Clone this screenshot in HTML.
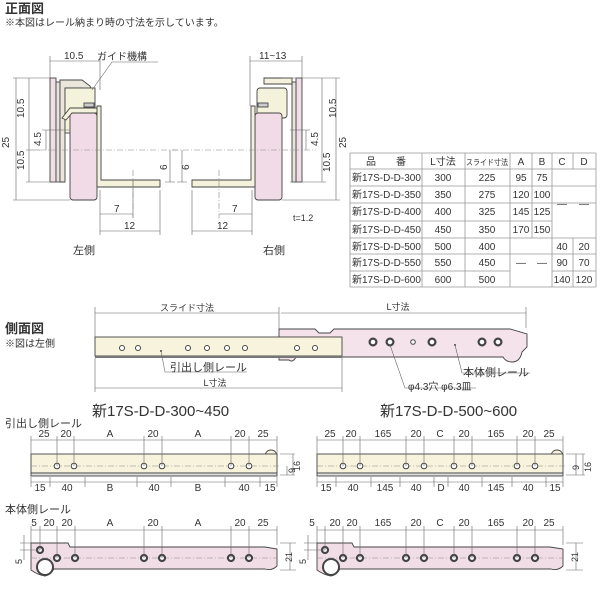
<!DOCTYPE html>
<html><head><meta charset="utf-8"><style>
html,body{margin:0;padding:0;background:#fff}
svg{display:block}
text{font-family:"Liberation Sans","Noto Sans CJK JP",sans-serif;fill:#333}
.d{stroke:#666;stroke-width:0.6;fill:none}
.c{stroke:#888;stroke-width:0.6;stroke-dasharray:6 2 1 2;fill:none}
.o{stroke:#444;stroke-width:0.9}
.h{fill:#fff;stroke:#444;stroke-width:1}
.hh{fill:#fff;stroke:#444;stroke-width:2.2}
</style></head><body>
<svg width="600" height="600" viewBox="0 0 600 600">
<text x="5" y="13" font-size="13" font-weight="bold">正面図</text>
<text x="5" y="26" font-size="10">※本図はレール納まり時の寸法を示しています。</text>

<g id="lv">
<rect x="50" y="78" width="6" height="104" fill="#f1dde6" class="o"/>
<rect x="56" y="82" width="4" height="100" fill="#e8e2dc" class="o"/>
<path d="M60 80 H82 L90 86 L93 94 L88 96 L82 88 H65 V182 H60Z" fill="#eae6dc" class="o"/>
<rect x="65" y="88" width="30" height="45" fill="#f5f2dc" class="o"/>
<rect x="70" y="113" width="27" height="87" rx="3" fill="#f0dbe6" class="o"/>
<path d="M97 106 H101 V180 H160 V187 H97 Z" fill="#f5f2dc" class="o"/>
<path d="M62 118 L70 108 H97 V113 H72 L66 120Z" fill="#f5f2dc" class="o"/>
<rect x="84" y="103" width="10" height="4" fill="#ccc" class="o"/>
</g>
<g transform="translate(352,0) scale(-1,1)">
<rect x="50" y="78" width="6" height="104" fill="#f1dde6" class="o"/>
<rect x="56" y="82" width="4" height="100" fill="#e8e2dc" class="o"/>
<path d="M60 78 H88 V84 H60Z" fill="#f5f2dc" class="o"/>
<rect x="65" y="88" width="30" height="30" rx="3" fill="#f5f2dc" class="o"/>
<rect x="70" y="113" width="27" height="87" rx="3" fill="#f0dbe6" class="o"/>
<path d="M97 106 H101 V180 H160 V187 H97 Z" fill="#f5f2dc" class="o"/>
<rect x="84" y="103" width="10" height="4" fill="#ccc" class="o"/>
</g>
<path class="d" d="M50 61 H100 M50 56 V78 M100 56 V90 M16 78 V200 M13 78 H50 M13 200 H70 M29 78 V182 M26 182 H60 M26 150 H40 M46 130 V150 M42 130 H70 M170 150 V182 M165 182 H175 M100 214 H133 M100 231 H160 M100 190 V235 M133 180 V218 M160 190 V235"/>
<path class="c" d="M40 150 H180 M133 170 V218"/>
<text x="64" y="59" font-size="10">10.5</text>
<text x="97" y="60" font-size="10">ガイド機構</text>
<path class="d" d="M92 90 L112 62 H158"/>
<text x="9" y="148" font-size="10" transform="rotate(-90 9 148)">25</text>
<text x="24" y="118" font-size="10" transform="rotate(-90 24 118)">10.5</text>
<text x="24" y="170" font-size="10" transform="rotate(-90 24 170)">10.5</text>
<text x="41" y="146" font-size="10" transform="rotate(-90 41 146)">4.5</text>
<text x="167" y="170" font-size="10" transform="rotate(-90 167 170)">6</text>
<text x="114" y="212" font-size="10">7</text>
<text x="124" y="229" font-size="10">12</text>
<text x="73" y="254" font-size="11">左側</text>
<path class="d" d="M250 61 H302 M250 56 V106 M302 56 V78 M336 78 V200 M282 78 H340 M282 200 H340 M322 78 V182 M290 182 H326 M306 130 V150 M290 130 H310 M182 150 V182 M177 182 H187 M219 214 H252 M192 231 H252 M192 190 V235 M252 190 V235"/>
<path class="c" d="M172 150 H316 M219 170 V218"/>
<text x="259" y="59" font-size="10">11~13</text>
<text x="336" y="118" font-size="10" transform="rotate(-90 336 118)">10.5</text>
<text x="346" y="148" font-size="10" transform="rotate(-90 346 148)">25</text>
<text x="318" y="146" font-size="10" transform="rotate(-90 318 146)">4.5</text>
<text x="330" y="172" font-size="10" transform="rotate(-90 330 172)">10.5</text>
<text x="189" y="170" font-size="10" transform="rotate(-90 189 170)">6</text>
<text x="232" y="212" font-size="10">7</text>
<text x="217" y="229" font-size="10">12</text>
<text x="293" y="221" font-size="9">t=1.2</text>
<text x="263" y="254" font-size="11">右側</text>

<g font-size="10" text-anchor="middle">
<path d="M350 153 H596 M350 169 H596 M350 186 H596 M350 203 H596 M350 221 H552 M350 238 H596 M350 254 H552 M552 254 H596 M350 271 H510 M552 271 H596 M350 287 H596 M350 153 V287 M422 153 V287 M465 153 V287 M510 153 V287 M532 153 V238 M552 153 V287 M573 153 V169 M573 238 V287 M596 153 V287" stroke="#999" stroke-width="0.8" fill="none"/>
<text x="386" y="165">品　　番</text><text x="443" y="165">L寸法</text><text x="487" y="165" font-size="8" textLength="42" lengthAdjust="spacingAndGlyphs">スライド寸法</text><text x="521" y="165">A</text><text x="542" y="165">B</text><text x="562" y="165">C</text><text x="584" y="165">D</text>
<g text-anchor="start"><text x="352" y="181">新17S-D-D-300</text><text x="352" y="198">新17S-D-D-350</text><text x="352" y="215">新17S-D-D-400</text><text x="352" y="233">新17S-D-D-450</text><text x="352" y="250">新17S-D-D-500</text><text x="352" y="266">新17S-D-D-550</text><text x="352" y="283">新17S-D-D-600</text></g>
<text x="443" y="181">300</text><text x="443" y="198">350</text><text x="443" y="215">400</text><text x="443" y="233">450</text><text x="443" y="250">500</text><text x="443" y="266">550</text><text x="443" y="283">600</text>
<text x="487" y="181">225</text><text x="487" y="198">275</text><text x="487" y="215">325</text><text x="487" y="233">350</text><text x="487" y="250">400</text><text x="487" y="266">450</text><text x="487" y="283">500</text>
<text x="521" y="181">95</text><text x="521" y="198">120</text><text x="521" y="215">145</text><text x="521" y="233">170</text>
<text x="542" y="181">75</text><text x="542" y="198">100</text><text x="542" y="215">125</text><text x="542" y="233">150</text>
<text x="562" y="207">—</text><text x="584" y="207">—</text><text x="521" y="266">—</text><text x="542" y="266">—</text>
<text x="562" y="250">40</text><text x="562" y="266">90</text><text x="562" y="283">140</text>
<text x="584" y="250">20</text><text x="584" y="266">70</text><text x="584" y="283">120</text>
</g>

<text x="5" y="333" font-size="13" font-weight="bold">側面図</text>
<text x="5" y="347" font-size="10">※図は左側</text>
<path d="M279 329 H315 L319 333 H330 L334 329 H510 L527 334 V347 L522 352 Q520 362 512 362 Q506 362 503 357 H296 Q293 363 289 360 H279 Z" fill="#f4e3ea" class="o"/>
<rect x="95" y="337" width="247" height="19" fill="#f7f3dc" class="o"/>
<rect x="95" y="356" width="247" height="2" fill="#777"/>
<g class="h"><circle cx="122" cy="348" r="2.5"/><circle cx="138" cy="348" r="2.5"/><circle cx="188" cy="348" r="2.5"/><circle cx="207" cy="348" r="2.5"/><circle cx="227" cy="348" r="2.5"/><circle cx="245" cy="348" r="2.5"/><circle cx="297" cy="348" r="2.5"/><circle cx="315" cy="348" r="2.5"/></g>
<g class="hh"><circle cx="373" cy="342" r="3.4"/><circle cx="390" cy="342" r="3.4"/><circle cx="432" cy="342" r="3.4"/><circle cx="482" cy="342" r="3.4"/><circle cx="498" cy="342" r="3.4"/></g>
<circle cx="413" cy="342" r="2.3" class="h"/>
<circle cx="161" cy="351" r="1" fill="#444"/><circle cx="455" cy="345" r="1" fill="#444"/>
<path class="d" d="M95 313 H279 M281 313 H526 M95 307 V337 M279 307 V329 M526 307 V328 M95 388 H342 M95 358 V392 M342 358 V392 M161 351 L165 372 H247 M390 345 L405 388 H476 M455 345 L462 373 H530"/>
<text x="187" y="311" font-size="9" text-anchor="middle">スライド寸法</text>
<text x="398" y="310" font-size="9" text-anchor="middle">L寸法</text>
<text x="215" y="386" font-size="9" text-anchor="middle">L寸法</text>
<text x="170" y="371" font-size="11">引出し側レール</text>
<text x="463" y="376" font-size="11">本体側レール</text>
<text x="408" y="390" font-size="10">φ4.3穴 φ6.3皿</text>

<text x="92" y="416" font-size="15">新17S-D-D-300~450</text>
<text x="5" y="427" font-size="11">引出し側レール</text>
<g font-size="10" text-anchor="middle"><text x="44" y="437">25</text><text x="66" y="437">20</text><text x="110" y="437">A</text><text x="153" y="437">20</text><text x="198" y="437">A</text><text x="240" y="437">20</text><text x="263" y="437">25</text>
<text x="40" y="491">15</text><text x="67" y="491">40</text><text x="110" y="491">B</text><text x="154" y="491">40</text><text x="198" y="491">B</text><text x="244" y="491">40</text><text x="270" y="491">15</text></g>
<circle cx="271" cy="456" r="6" fill="#f7f3dc" class="o"/>
<rect x="31" y="454" width="246" height="19" fill="#f7f3dc" class="o"/>
<rect x="31" y="473" width="246" height="3" fill="#ddd" class="o"/>
<path class="c" d="M31 466 H280"/>
<g class="h"><circle cx="57" cy="466" r="2.8"/><circle cx="74" cy="466" r="2.8"/><circle cx="144" cy="466" r="2.8"/><circle cx="162" cy="466" r="2.8"/><circle cx="231" cy="466" r="2.8"/><circle cx="249" cy="466" r="2.8"/></g>
<path class="d" d="M31 440 H277 M31 436 V454 M57 436 V466 M74 436 V466 M144 436 V466 M162 436 V466 M231 436 V466 M249 436 V466 M277 436 V454 M31 482 H277 M31 477 V487 M50 477 V487 M85 477 V487 M137 477 V487 M171 477 V487 M225 477 V487 M260 477 V487 M277 477 V487 M280 454 H295 M280 475 H295 M287 466 V475 M293 454 V475"/>
<text x="295" y="473" font-size="9" transform="rotate(-90 295 473)">9</text>
<text x="300" y="471" font-size="9" transform="rotate(-90 300 471)">16</text>

<text x="5" y="513" font-size="11">本体側レール</text>
<g font-size="10" text-anchor="middle"><text x="34" y="526">5</text><text x="49" y="526">20</text><text x="67" y="526">20</text><text x="110" y="526">A</text><text x="153" y="526">20</text><text x="198" y="526">A</text><text x="240" y="526">20</text><text x="263" y="526">25</text></g>
<path d="M31 543 H68 L70 547 H265 L277 549 V566 Q272 571 265 569 H54 Q50 575 45 576 Q38 575 31 570 Z" fill="#f1dde6" class="o"/>
<circle cx="45" cy="567" r="8" fill="#fff" stroke="#444" stroke-width="2"/>
<path class="c" d="M31 558 H277"/>
<g class="hh"><circle cx="40" cy="550" r="3"/><circle cx="57" cy="558" r="3"/><circle cx="75" cy="558" r="3"/><circle cx="144" cy="558" r="3"/><circle cx="162" cy="558" r="3"/><circle cx="231" cy="558" r="3"/><circle cx="249" cy="558" r="3"/></g>
<path class="d" d="M31 530 H277 M31 526 V543 M40 526 V550 M57 526 V558 M75 526 V558 M144 526 V558 M162 526 V558 M231 526 V558 M249 526 V558 M277 526 V545 M20 543 H31 M20 550 H40 M24 535 V560 M280 543 H296 M280 570 H296 M290 543 V570"/>
<text x="22" y="564" font-size="9" transform="rotate(-90 22 564)">5</text>
<text x="292" y="562" font-size="9" transform="rotate(-90 292 562)">21</text>

<text x="380" y="416" font-size="15">新17S-D-D-500~600</text>
<g font-size="10" text-anchor="middle"><text x="330" y="437">25</text><text x="351" y="437">20</text><text x="383" y="437">165</text><text x="416" y="437">20</text><text x="440" y="437">C</text><text x="464" y="437">20</text><text x="496" y="437">165</text><text x="528" y="437">20</text><text x="549" y="437">25</text>
<text x="326" y="491">15</text><text x="353" y="491">40</text><text x="385" y="491">145</text><text x="416" y="491">40</text><text x="441" y="491">D</text><text x="464" y="491">40</text><text x="496" y="491">145</text><text x="528" y="491">40</text><text x="555" y="491">15</text></g>
<circle cx="557" cy="456" r="6" fill="#f7f3dc" class="o"/>
<rect x="317" y="454" width="246" height="19" fill="#f7f3dc" class="o"/>
<rect x="317" y="473" width="246" height="3" fill="#ddd" class="o"/>
<path class="c" d="M317 466 H566"/>
<g class="h"><circle cx="343" cy="466" r="2.8"/><circle cx="360" cy="466" r="2.8"/><circle cx="406" cy="466" r="2.8"/><circle cx="424" cy="466" r="2.8"/><circle cx="454" cy="466" r="2.8"/><circle cx="472" cy="466" r="2.8"/><circle cx="517" cy="466" r="2.8"/><circle cx="535" cy="466" r="2.8"/></g>
<path class="d" d="M317 440 H563 M317 436 V454 M343 436 V466 M360 436 V466 M406 436 V466 M424 436 V466 M454 436 V466 M472 436 V466 M517 436 V466 M535 436 V466 M563 436 V454 M317 482 H563 M317 477 V487 M336 477 V487 M371 477 V487 M400 477 V487 M434 477 V487 M448 477 V487 M482 477 V487 M512 477 V487 M546 477 V487 M563 477 V487 M566 454 H585 M566 475 H585 M576 454 V475 M583 454 V475"/>
<text x="579" y="470" font-size="9" transform="rotate(-90 579 470)">9</text>
<text x="591" y="472" font-size="9" transform="rotate(-90 591 472)">16</text>

<g font-size="10" text-anchor="middle"><text x="312" y="526">5</text><text x="335" y="526">20</text><text x="352" y="526">20</text><text x="383" y="526">165</text><text x="416" y="526">20</text><text x="440" y="526">C</text><text x="464" y="526">20</text><text x="496" y="526">165</text><text x="528" y="526">20</text><text x="549" y="526">25</text></g>
<path d="M317 543 H352 L354 547 H550 L563 549 V566 Q558 571 551 569 H340 Q336 575 331 576 Q324 575 317 570 Z" fill="#f1dde6" class="o"/>
<circle cx="331" cy="567" r="8" fill="#fff" stroke="#444" stroke-width="2"/>
<path class="c" d="M317 558 H563"/>
<g class="hh"><circle cx="325" cy="550" r="3"/><circle cx="343" cy="558" r="3"/><circle cx="360" cy="558" r="3"/><circle cx="406" cy="558" r="3"/><circle cx="424" cy="558" r="3"/><circle cx="454" cy="558" r="3"/><circle cx="472" cy="558" r="3"/><circle cx="517" cy="558" r="3"/><circle cx="535" cy="558" r="3"/></g>
<path class="d" d="M317 530 H563 M317 526 V543 M325 526 V550 M343 526 V558 M360 526 V558 M406 526 V558 M424 526 V558 M454 526 V558 M472 526 V558 M517 526 V558 M535 526 V558 M563 526 V545 M304 543 H317 M304 550 H325 M308 535 V560 M566 543 H583 M566 570 H583 M576 543 V570"/>
<text x="306" y="564" font-size="9" transform="rotate(-90 306 564)">5</text>
<text x="578" y="562" font-size="9" transform="rotate(-90 578 562)">21</text>
</svg>
</body></html>
